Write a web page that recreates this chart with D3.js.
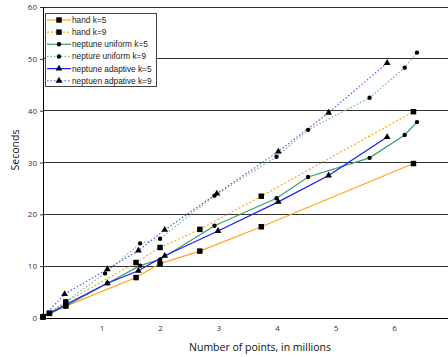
<!DOCTYPE html>
<html><head><meta charset="utf-8">
<script src="https://cdn.jsdelivr.net/npm/d3@7"></script>
<style>body{margin:0;background:#fff}svg{display:block}</style>
</head><body>
<script>
const xTicks = [1, 2, 3, 4, 5, 6];
const yTicks = [0, 10, 20, 30, 40, 50, 60];
const seriesNames = ["hand k=5", "hand k=9", "neptune uniform k=5", "nepture uniform k=9", "neptune adaptive k=5", "neptuen adpative k=9"];
const handX = [0, 0.11, 0.39, 1.59, 2.0, 2.68, 3.73, 6.33];
const handK5 = [0.2, 0.9, 2.3, 7.8, 10.5, 12.9, 17.6, 29.8];
const handK9 = [0.2, 0.9, 3.1, 10.7, 13.6, 17.1, 23.5, 39.8];
const uniK5X = [0, 0.39, 1.1, 1.66, 2.0, 2.93, 3.99, 4.53, 5.58, 6.18, 6.39];
const uniK5 = [0.2, 2.3, 6.7, 10.1, 11.3, 17.8, 23.1, 27.2, 30.9, 35.3, 37.8];
const uniK9X = [0, 0.39, 1.06, 1.66, 2.0, 2.93, 3.99, 4.53, 5.58, 6.18, 6.39];
const uniK9 = [0.2, 3.2, 8.6, 14.4, 15.3, 23.6, 31.1, 36.3, 42.5, 48.3, 51.2];
const adaK5X = [0, 0.39, 1.1, 1.63, 2.08, 2.99, 4.02, 4.88, 5.88];
const adaK5 = [0.2, 2.6, 6.7, 9.1, 12.0, 16.8, 22.4, 27.5, 34.9];
const adaK9X = [0, 0.37, 1.1, 1.63, 2.08, 2.97, 4.02, 4.88, 5.88];
const adaK9 = [0.2, 4.6, 9.4, 13.0, 17.0, 24.0, 32.1, 39.6, 49.2];

const series = [
  {name: seriesNames[0], xs: handX, ys: handK5, color: "#ffa51f", dash: null, sym: d3.symbolSquare, size: 30},
  {name: seriesNames[1], xs: handX, ys: handK9, color: "#ffa51f", dash: "2,2", sym: d3.symbolSquare, size: 30},
  {name: seriesNames[2], xs: uniK5X, ys: uniK5, color: "#3a9f6a", dash: null, sym: d3.symbolCircle, size: 15},
  {name: seriesNames[3], xs: uniK9X, ys: uniK9, color: "#6fbf95", dash: "1.5,2", sym: d3.symbolCircle, size: 15},
  {name: seriesNames[4], xs: adaK5X, ys: adaK5, color: "#1a1aff", dash: null, sym: d3.symbolTriangle, size: 20},
  {name: seriesNames[5], xs: adaK9X, ys: adaK9, color: "#5a5aff", dash: "1.5,2", sym: d3.symbolTriangle, size: 20}
];

const W = 448, H = 357;
const x = d3.scaleLinear().domain([0, 6.92]).range([43, 448]);
const y = d3.scaleLinear().domain([0, 60]).range([318, 7]);

const svg = d3.select("body").append("svg").attr("width", W).attr("height", H);

// grid
svg.append("g").selectAll("line").data(yTicks.filter(t => t > 0)).join("line")
  .attr("x1", x(0)).attr("x2", W).attr("y1", d => y(d)).attr("y2", d => y(d))
  .attr("stroke", "#333").attr("stroke-width", 1).attr("shape-rendering", "crispEdges");

// axes
const yAxis = d3.axisLeft(y).tickValues(yTicks).tickSize(3).tickPadding(3).tickFormat(d3.format("d"));
const gy = svg.append("g").attr("transform", `translate(${x(0)},0)`).call(yAxis);
gy.select(".domain").attr("stroke", "#000").attr("shape-rendering", "crispEdges");
gy.selectAll(".tick line").attr("stroke", "#333");
gy.selectAll("text").attr("font-family", "Open Sans").attr("font-size", 8).attr("fill", "#333");

const xAxis = d3.axisBottom(x).tickValues(xTicks).tickSize(0).tickPadding(7).tickFormat(d3.format("d"));
const gx = svg.append("g").attr("transform", `translate(0,${y(0)})`).call(xAxis);
gx.select(".domain").attr("stroke", "#000").attr("shape-rendering", "crispEdges");
gx.selectAll("text").attr("font-family", "Open Sans").attr("font-size", 8).attr("fill", "#333");

// titles
svg.append("text").attr("x", 260).attr("y", 351).attr("text-anchor", "middle")
  .attr("font-family", "Open Sans").attr("font-size", 10.5).attr("fill", "#111").text("Number of points, in millions");
svg.append("text").attr("transform", "translate(19,150) rotate(-90)").attr("text-anchor", "middle")
  .attr("font-family", "Open Sans").attr("font-size", 10.5).attr("fill", "#111").text("Seconds");

// lines
const line = d3.line().x(d => x(d[0])).y(d => y(d[1]));
const plot = svg.append("g");
series.forEach(s => {
  const pts = s.xs.map((v, i) => [v, s.ys[i]]);
  plot.append("path").datum(pts).attr("d", line).attr("fill", "none")
    .attr("stroke", s.color).attr("stroke-width", 1.2).attr("stroke-dasharray", s.dash);
});
series.forEach(s => {
  const pts = s.xs.map((v, i) => [v, s.ys[i]]);
  plot.append("g").selectAll("path").data(pts).join("path")
    .attr("transform", d => `translate(${x(d[0])},${y(d[1])})`)
    .attr("d", d3.symbol(s.sym, s.size)).attr("fill", "#000");
});

// legend
const lg = svg.append("g");
lg.append("rect").attr("x", 45.5).attr("y", 13.5).attr("width", 111).attr("height", 73)
  .attr("fill", "#fff").attr("stroke", "#444").attr("stroke-width", 1);
series.forEach((s, i) => {
  const ly = 20 + i * 12.15;
  lg.append("line").attr("x1", 47).attr("x2", 71).attr("y1", ly).attr("y2", ly)
    .attr("stroke", s.color).attr("stroke-width", 1.2).attr("stroke-dasharray", s.dash);
  lg.append("path").attr("transform", `translate(59,${ly})`).attr("d", d3.symbol(s.sym, s.size)).attr("fill", "#000");
  lg.append("text").attr("x", 72).attr("y", ly + 3).attr("font-family", "Liberation Sans")
    .attr("font-size", 8.3).attr("fill", "#222").text(s.name);
});
</script>
</body></html>
